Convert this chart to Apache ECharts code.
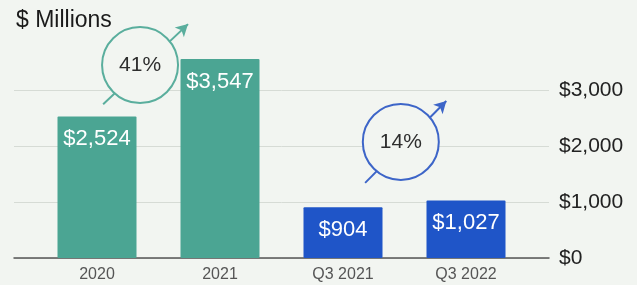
<!DOCTYPE html>
<html>
<head>
<meta charset="utf-8">
<script src="https://cdn.jsdelivr.net/npm/echarts@6/dist/echarts.min.js"></script>
<style>
  html, body { margin: 0; padding: 0; background: #f2f5f1; }
  #chart { width: 637px; height: 285px; }
</style>
</head>
<body>
<div id="chart"></div>
<script>
  const categories = ['2020', '2021', 'Q3 2021', 'Q3 2022']
  const revenue = [2524, 3547, 904, 1027]
  const yTicks = [0, 1000, 2000, 3000]
  const growthLabels = ['41%', '14%']

  const bg = '#f2f5f1'
  const teal = '#4ba593'
  const blue = '#1f55c8'
  const font = 'Liberation Sans, Arial, sans-serif'

  const money = v => '$' + v.toLocaleString('en-US')

  // annotation placement in data space (x: category index, y: value)
  const rings = [
    { label: growthLabels[0], at: [0.35, 3440], from: [0.05, 2740], to: [0.74, 4170], color: '#5aae9d' },
    { label: growthLabels[1], at: [2.47, 2070], from: [2.18, 1340], to: [2.84, 2800], color: '#3d65c8' }
  ]

  const chart = echarts.init(document.getElementById('chart'))

  chart.setOption({
    backgroundColor: bg,
    animation: false,
    title: {
      text: '$ Millions',
      left: 16,
      top: 9,
      padding: 0,
      textStyle: { fontFamily: font, fontSize: 23, fontWeight: 'normal', color: '#1a1a1a' }
    },
    grid: [
      // gridlines + right axis labels
      { left: 14, right: 88, top: 90, bottom: 27 },
      // bars
      { left: 35.5, right: 109.5, top: 0, bottom: 27 }
    ],
    xAxis: [
      {
        gridIndex: 0, type: 'value', min: 0, max: 1,
        axisLine: { show: true, lineStyle: { color: '#555', width: 1.5 } },
        axisTick: { show: false }, axisLabel: { show: false }, splitLine: { show: false }
      },
      {
        gridIndex: 1, type: 'category', data: categories,
        axisLine: { show: false }, axisTick: { show: false },
        axisLabel: { margin: 9, fontFamily: font, fontSize: 16, color: '#555' }
      },
      {
        gridIndex: 1, type: 'value', min: -0.5, max: 3.5, position: 'top', show: false
      }
    ],
    yAxis: [
      {
        gridIndex: 0, type: 'value', position: 'right',
        min: yTicks[0], max: yTicks[yTicks.length - 1], interval: 1000,
        axisLine: { show: false }, axisTick: { show: false },
        axisLabel: { margin: 10, fontFamily: font, fontSize: 21, color: '#222', formatter: money },
        splitLine: { lineStyle: { color: '#d6dbd5', width: 1 } }
      },
      {
        gridIndex: 1, type: 'value', min: 0, max: 4600, show: false
      }
    ],
    series: [
      {
        type: 'bar',
        xAxisIndex: 1, yAxisIndex: 1,
        barWidth: 79,
        clip: false,
        data: revenue.map((v, i) => ({
          value: v,
          itemStyle: { color: i < 2 ? teal : blue, borderRadius: 1 }
        })),
        label: {
          show: true, position: 'insideTop', distance: 12,
          fontFamily: font, fontSize: 22, color: '#fff',
          formatter: p => money(p.value)
        },
        z: 2
      },
      {
        type: 'line',
        xAxisIndex: 2, yAxisIndex: 1,
        data: [],
        z: 3,
        markLine: {
          silent: true,
          animation: false,
          symbol: ['none', 'arrow'],
          symbolSize: [10, 12],
          label: { show: false },
          data: rings.map(r => [
            { coord: r.from, lineStyle: { color: r.color, width: 2, type: 'solid' }, itemStyle: { color: r.color } },
            { coord: r.to }
          ])
        }
      },
      {
        type: 'scatter',
        xAxisIndex: 2, yAxisIndex: 1,
        silent: true,
        symbol: 'circle',
        symbolSize: 76,
        zlevel: 1,
        z: 4,
        data: rings.map(r => ({
          value: r.at,
          name: r.label,
          itemStyle: { color: bg, opacity: 1, borderColor: r.color, borderWidth: 2 }
        })),
        label: {
          show: true, position: 'inside',
          fontFamily: font, fontSize: 21, color: '#2e2e2e',
          formatter: p => p.name
        }
      }
    ]
  })
</script>
</body>
</html>
